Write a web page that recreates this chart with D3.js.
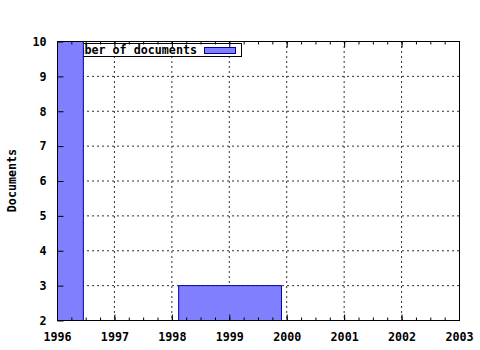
<!DOCTYPE html>
<html>
<head>
<meta charset="utf-8">
<script src="https://cdn.jsdelivr.net/npm/d3@7"></script>
<style>
  body { margin: 0; background: #fff; }
  svg text { font-family: "DejaVu Sans Mono", monospace; font-weight: bold; font-size: 11.7px; fill: #000; }
</style>
</head>
<body>
<div id="chart"></div>
<script>
// bars: start year, end year, number of documents
var barStart = [1995.6, 1998.11];
var barEnd = [1996.45, 1999.9];
var barValue = [10.5, 3];
var seriesName = "Number of documents";
var xTicks = [1996, 1997, 1998, 1999, 2000, 2001, 2002, 2003];
var yTicks = [2, 3, 4, 5, 6, 7, 8, 9, 10];

function init(){
    var w = 480, h = 350;
    var left = 57, right = 459, top = 41, bottom = 320;

    var xScale = d3.scaleLinear().domain([1996, 2003]).range([left, right]);
    var yScale = d3.scaleLinear().domain([2, 10]).range([bottom, top]);

    var svg = d3.select("#chart").append("svg")
        .attr("width", w).attr("height", h);

    // grid
    svg.append("g").selectAll("line")
        .data(xTicks.slice(1, -1))
        .enter().append("line")
        .attr("x1", function(d){ return xScale(d); })
        .attr("x2", function(d){ return xScale(d); })
        .attr("y1", top).attr("y2", bottom)
        .attr("stroke", "#333").attr("stroke-dasharray", "2,3");
    svg.append("g").selectAll("line")
        .data(yTicks.slice(1, -1))
        .enter().append("line")
        .attr("y1", function(d){ return yScale(d) + 0.5; })
        .attr("y2", function(d){ return yScale(d) + 0.5; })
        .attr("x1", left).attr("x2", right)
        .attr("stroke", "#333").attr("stroke-dasharray", "2,3");

    // legend (drawn under the bars)
    var key = svg.append("g");
    key.append("rect")
        .attr("x", 62.5).attr("y", 43.5).attr("width", 179).attr("height", 13)
        .attr("fill", "#fff").attr("stroke", "#000");
    key.append("text")
        .attr("x", 197).attr("y", 54).attr("text-anchor", "end")
        .text(seriesName);
    key.append("rect")
        .attr("x", 204.5).attr("y", 47.5).attr("width", 31).attr("height", 6)
        .attr("fill", "#8080ff").attr("stroke", "#0000a0");

    // bars
    svg.append("clipPath").attr("id", "plot")
        .append("rect").attr("x", left).attr("y", top)
        .attr("width", right - left).attr("height", bottom - top);
    svg.append("g").attr("clip-path", "url(#plot)")
        .selectAll("rect")
        .data(barValue)
        .enter().append("rect")
        .attr("x", function(d, i){ return xScale(barStart[i]) + 0.5; })
        .attr("y", function(d){ return yScale(d) + 0.5; })
        .attr("width", function(d, i){ return xScale(barEnd[i]) - xScale(barStart[i]); })
        .attr("height", function(d){ return bottom - yScale(d) + 2; })
        .attr("fill", "#8080ff").attr("stroke", "#0000a0");

    // frame
    svg.append("rect")
        .attr("x", left + 0.5).attr("y", top + 0.5)
        .attr("width", right - left).attr("height", bottom - top)
        .attr("fill", "none").attr("stroke", "#000");

    // minor/major x ticks, bottom and top
    var minor = d3.range(1996, 2003.01, 0.25);
    var xAxisB = d3.axisBottom(xScale).tickValues(xTicks).tickFormat(d3.format("d"))
        .tickSizeInner(-6).tickSizeOuter(0).tickPadding(12);
    var gx = svg.append("g").attr("transform", "translate(0," + (bottom + 0.5) + ")").call(xAxisB);
    gx.select(".domain").remove();
    svg.append("g").attr("transform", "translate(0," + (bottom + 0.5) + ")")
        .call(d3.axisBottom(xScale).tickValues(minor).tickFormat("").tickSizeInner(-3).tickSizeOuter(0))
        .select(".domain").remove();
    svg.append("g").attr("transform", "translate(0," + (top + 0.5) + ")")
        .call(d3.axisTop(xScale).tickValues(xTicks).tickFormat("").tickSizeInner(-6).tickSizeOuter(0))
        .select(".domain").remove();
    svg.append("g").attr("transform", "translate(0," + (top + 0.5) + ")")
        .call(d3.axisTop(xScale).tickValues(minor).tickFormat("").tickSizeInner(-3).tickSizeOuter(0))
        .select(".domain").remove();

    // y axis
    var gy = svg.append("g").attr("transform", "translate(" + (left + 0.5) + ",0.5)")
        .call(d3.axisLeft(yScale).tickValues(yTicks).tickSizeInner(-6).tickSizeOuter(0).tickPadding(11));
    gy.select(".domain").remove();

    svg.selectAll(".tick text").attr("font-family", null).attr("font-size", null);
    svg.selectAll(".tick line").attr("stroke", "#000");

    svg.append("text")
        .attr("transform", "translate(16," + ((top + bottom) / 2) + ") rotate(-90)")
        .attr("text-anchor", "middle")
        .text("Documents");
}
window.onload = init;
</script>
</body>
</html>
